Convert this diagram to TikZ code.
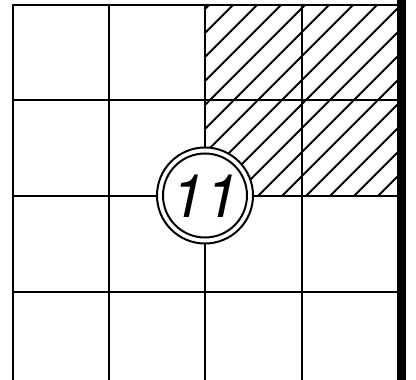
\documentclass[tikz,border=0pt]{standalone}
\usepackage{fontspec}
\setmainfont{TeX Gyre Heros}
\begin{document}
\begin{tikzpicture}[x=1pt,y=-1pt,
  gridline/.style={line width=2pt},
  hatchline/.style={line width=2pt},
  ring/.style={line width=2pt}]
\useasboundingbox[fill=white] (0,0) rectangle (416,380);
% hatching
\begin{scope}
  \clip (204.5,4.5) rectangle (398,195.5);
  \foreach \k in {0,...,16} {
    \pgfmathsetmacro\cc{214+24*\k}
    \draw[hatchline] (\cc,0) -- (\cc-220,220);
  }
\end{scope}
% grid
\foreach \x in {12.5,108.5,204.5,301.5}
  \draw[gridline] (\x,3.5) -- (\x,380);
\foreach \y in {4.5,99.5,195.5,291.5}
  \draw[gridline] (11.5,\y) -- (398,\y);
% thick right edge
\draw[line width=9.5pt] (401.5,0) -- (401.5,380);
% circle
\node[circle, draw, ring, fill=white, minimum size=96pt, inner sep=0pt] (c11) at (205,195.5) {};
\draw[ring] (c11.center) circle[radius=42pt];
\node[font=\fontsize{60}{62}\selectfont\itshape, inner sep=0pt] (t11) at ([yshift=-1pt]c11.center) {11};
\end{tikzpicture}
\end{document}
